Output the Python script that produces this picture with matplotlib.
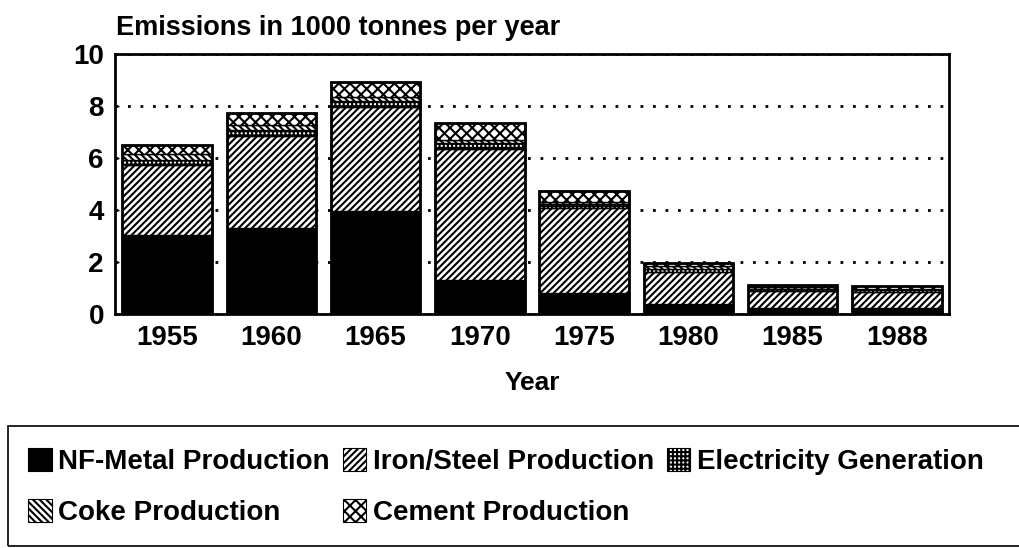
import numpy as np
import matplotlib.pyplot as plt
from matplotlib.patches import Rectangle, Patch

plt.rcParams['font.family'] = ['Liberation Sans', 'DejaVu Sans']
plt.rcParams['font.weight'] = 'bold'
plt.rcParams['hatch.linewidth'] = 1.5

# Data (1000 tonnes per year)
years = ['1955', '1960', '1965', '1970', '1975', '1980', '1985', '1988']
nf_metal = [3.05, 3.30, 3.96, 1.30, 0.82, 0.40, 0.22, 0.22]
iron_steel = [2.70, 3.55, 4.01, 5.03, 3.25, 1.23, 0.68, 0.64]
electricity = [0.18, 0.23, 0.22, 0.23, 0.15, 0.12, 0.08, 0.05]
coke = [0.23, 0.19, 0.17, 0.15, 0.10, 0.08, 0.05, 0.05]
cement = [0.34, 0.45, 0.55, 0.62, 0.41, 0.12, 0.07, 0.10]

series = [
    ('NF-Metal Production', nf_metal, 'black', None),
    ('Iron/Steel Production', iron_steel, 'white', '/////'),
    ('Electricity Generation', electricity, 'white', '++++'),
    ('Coke Production', coke, 'white', '\\\\\\\\\\'),
    ('Cement Production', cement, 'white', 'xxx'),
]

W, H = 1020, 548
fig = plt.figure(figsize=(W / 100, H / 100), dpi=100)
ax = fig.add_axes([115 / W, 1 - 314 / H, (949 - 115) / W, (314 - 54) / H])

x = np.arange(len(years))
bottom = np.zeros(len(years))
for name, vals, fc, hatch in series:
    ax.bar(x, vals, width=0.86, bottom=bottom, color=fc, hatch=hatch,
           edgecolor='black', linewidth=1.0, zorder=3)
    bottom += np.array(vals)

# outline of each stacked column
ax.bar(x, bottom, width=0.86, fill=False, edgecolor='black', linewidth=2.0, zorder=4)

ax.set_xlim(-0.5, len(years) - 0.5)
ax.set_ylim(0, 10)
ax.set_yticks([0, 2, 4, 6, 8, 10])
ax.set_xticks(x)
ax.set_xticklabels(years)
ax.tick_params(axis='y', direction='in', length=3, width=1, labelsize=20, pad=8)
ax.tick_params(axis='x', length=0, labelsize=20, pad=8)
for s in ax.spines.values():
    s.set_linewidth(2)
    s.set_zorder(5)

ax.yaxis.grid(True, color='black', linewidth=2, linestyle=(0, (1, 3.5)))
ax.set_axisbelow(True)
ax.set_xlabel('Year', fontsize=19, fontweight='bold', labelpad=14)

fig.text(116 / W, 1 - 28 / H, 'Emissions in 1000 tonnes per year',
         fontsize=19.5, fontweight='bold', ha='left', va='center')

# legend box
fig.patches.append(Rectangle((8 / W, 2 / H), 1.1, 120 / H, transform=fig.transFigure,
                             fill=False, edgecolor='black', linewidth=1.2))

order = ['NF-Metal Production', 'Coke Production', 'Iron/Steel Production',
         'Cement Production', 'Electricity Generation']
leg_handles = []
for name in order:
    for n, vals, fc, hatch in series:
        if n == name:
            leg_handles.append(Patch(facecolor=fc, hatch=hatch, edgecolor='black', linewidth=0.8))
fig.legend(leg_handles, order, loc='upper left', bbox_to_anchor=(14 / W, 1 - 434 / H),
           ncol=3, frameon=False, borderpad=0.0, handlelength=0.85, handleheight=0.9,
           handletextpad=0.25, columnspacing=0.45, labelspacing=0.85,
           prop={'weight': 'bold', 'size': 20})

fig.savefig('out.png', dpi=100)
